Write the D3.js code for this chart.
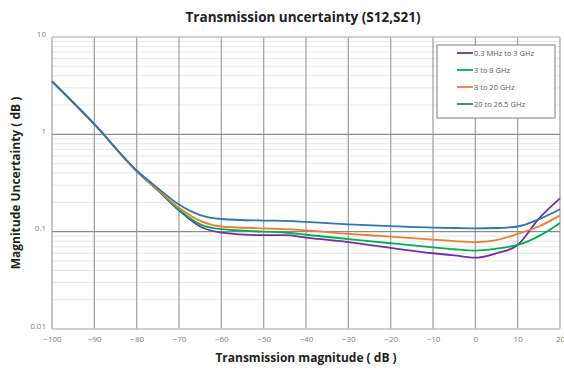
<!DOCTYPE html>
<html>
<head>
<meta charset="utf-8">
<script src="https://cdn.jsdelivr.net/npm/d3@7"></script>
<style>
  body { margin: 0; background: #fff; }
  text { font-family: "Open Sans", "Noto Sans", sans-serif; }
</style>
</head>
<body>
<div id="container"></div>
<script>
let w = 564;
let h = 370;

// x positions (transmission magnitude, dB)
let xValues = [-100, -90, -80, -75, -70, -65, -60, -50, -45, -40, -30, -20, -10, -5, 0, 5, 10, 15, 20];

// magnitude uncertainty for each band
let band1 = [3.5, 1.27, 0.42, 0.266, 0.165, 0.113, 0.098, 0.092, 0.092, 0.087, 0.078, 0.068, 0.06, 0.057, 0.054, 0.06, 0.073, 0.136, 0.22];
let band2 = [3.5, 1.27, 0.42, 0.268, 0.168, 0.119, 0.106, 0.1, 0.098, 0.093, 0.084, 0.076, 0.069, 0.066, 0.064, 0.067, 0.073, 0.09, 0.123];
let band3 = [3.5, 1.27, 0.42, 0.27, 0.176, 0.129, 0.113, 0.108, 0.106, 0.103, 0.095, 0.089, 0.083, 0.08, 0.078, 0.082, 0.095, 0.113, 0.147];
let band4 = [3.5, 1.27, 0.425, 0.28, 0.19, 0.148, 0.135, 0.13, 0.129, 0.126, 0.119, 0.114, 0.11, 0.109, 0.108, 0.109, 0.113, 0.134, 0.17];

let seriesNames = ["0.3 MHz to 3 GHz", "3 to 8 GHz", "8 to 20 GHz", "20 to 26.5 GHz"];
let seriesColors = ["#7030a0", "#00b050", "#ed7d31", "#2e75b6"];
let allSeries = [band1, band2, band3, band4];

let xTicks = [-100, -90, -80, -70, -60, -50, -40, -30, -20, -10, 0, 10, 20];
let yTicks = [10, 1, 0.1, 0.01];

let viz = d3.select("#container")
  .append("svg")
    .attr("width", w)
    .attr("height", h);

let padLeft = 52, padRight = 560, padTop = 37, padBottom = 329;

let xScale = d3.scaleLinear().domain([-100, 20]).range([padLeft, padRight]);
let yScale = d3.scaleLog().domain([0.01, 10]).range([padBottom, padTop]);

// minor horizontal grid (2..9 in every decade)
let minor = [];
[0.01, 0.1, 1].forEach(function(d){
  for (let k = 2; k <= 9; k++) minor.push(d * k);
});
viz.append("g").selectAll("line").data(minor).enter().append("line")
  .attr("x1", padLeft).attr("x2", padRight)
  .attr("y1", function(d){ return yScale(d); })
  .attr("y2", function(d){ return yScale(d); })
  .attr("stroke", "#e6e6e6").attr("stroke-width", 1);

// vertical grid
viz.append("g").selectAll("line").data(xTicks).enter().append("line")
  .attr("x1", function(d){ return xScale(d); })
  .attr("x2", function(d){ return xScale(d); })
  .attr("y1", padTop).attr("y2", padBottom)
  .attr("stroke", "#a6a6a6").attr("stroke-width", 1.3);

// major horizontal grid
viz.append("g").selectAll("line").data(yTicks).enter().append("line")
  .attr("x1", padLeft).attr("x2", padRight)
  .attr("y1", function(d){ return yScale(d); })
  .attr("y2", function(d){ return yScale(d); })
  .attr("stroke", function(d){ return (d == 10 || d == 0.01) ? "#bfbfbf" : "#8c8c8c"; })
  .attr("stroke-width", 1.3);

// x axis labels
let xAxis = d3.axisBottom(xScale).tickValues(xTicks).tickSize(0).tickPadding(7);
let xAxisGroup = viz.append("g").attr("transform", "translate(0," + padBottom + ")").call(xAxis);
xAxisGroup.select(".domain").remove();
xAxisGroup.selectAll("text").attr("fill", "#808080").style("font-size", "8px");

// y axis labels
let yAxis = d3.axisLeft(yScale).tickValues(yTicks).tickSize(0).tickPadding(6)
  .tickFormat(function(d){ return String(d); });
let yAxisGroup = viz.append("g").attr("transform", "translate(" + padLeft + ",0)").call(yAxis);
yAxisGroup.select(".domain").remove();
yAxisGroup.selectAll("text").attr("fill", "#808080").style("font-size", "8px").attr("dy", "-0.1em");

// lines
let line = d3.line()
  .x(function(d, i){ return xScale(xValues[i]); })
  .y(function(d){ return yScale(d); })
  .curve(d3.curveMonotoneX);

viz.append("g").selectAll("path").data(allSeries).enter().append("path")
  .attr("d", line)
  .attr("fill", "none")
  .attr("stroke", function(d, i){ return seriesColors[i]; })
  .attr("stroke-width", 1.8);

// title and axis titles
viz.append("text").attr("x", 303).attr("y", 22).attr("text-anchor", "middle")
  .style("font-size", "13.5px").style("font-weight", "bold").attr("fill", "#222")
  .text("Transmission uncertainty (S12,S21)");

viz.append("text").attr("x", 306).attr("y", 362).attr("text-anchor", "middle")
  .style("font-size", "12px").style("font-weight", "bold").attr("fill", "#222")
  .text("Transmission magnitude ( dB )");

viz.append("text").attr("transform", "translate(20," + ((padTop + padBottom) / 2) + ") rotate(-90)")
  .attr("text-anchor", "middle")
  .style("font-size", "12px").style("font-weight", "bold").attr("fill", "#222")
  .text("Magnitude Uncertainty  ( dB )");

// legend
let legend = viz.append("g").attr("transform", "translate(437,45)");
legend.append("rect").attr("width", 118).attr("height", 73)
  .attr("fill", "#fff").attr("stroke", "#7f7f7f").attr("stroke-width", 1);
let items = legend.selectAll(".item").data(seriesNames).enter().append("g")
  .attr("transform", function(d, i){ return "translate(0," + (8 + i * 17) + ")"; });
items.append("line").attr("x1", 20).attr("x2", 36).attr("y1", 0).attr("y2", 0)
  .attr("stroke", function(d, i){ return seriesColors[i]; }).attr("stroke-width", 1.8);
items.append("text").attr("x", 37).attr("y", 3)
  .style("font-size", "7.5px").attr("fill", "#595959")
  .text(function(d){ return d; });
</script>
</body>
</html>
